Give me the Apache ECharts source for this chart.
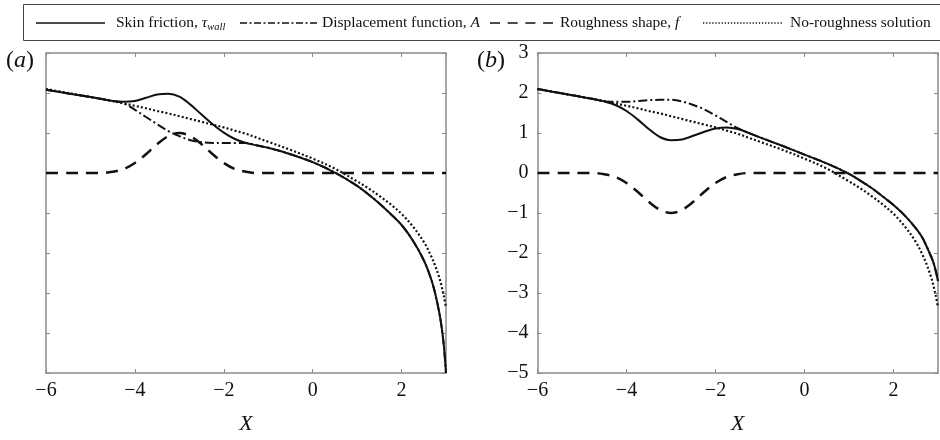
<!DOCTYPE html>
<html><head><meta charset="utf-8">
<script src="https://cdn.jsdelivr.net/npm/echarts@6/dist/echarts.min.js"></script>
<style>html,body{margin:0;padding:0;background:#fff}#c{width:940px;height:440px}</style>
</head><body><div id="c"></div><script>
// shared X sample positions
const xs = [-6, -5.5, -5, -4.75, -4.5, -4.25, -4, -3.75, -3.5, -3.25, -3, -2.75, -2.5, -2.25, -2, -1.75, -1.5, -1.25, -1, -0.5, 0, 0.5, 1, 1.25, 1.5, 1.75, 2, 2.25, 2.5, 2.65, 2.75, 2.85, 2.9, 2.95, 3];
// no-roughness solution (same in both panels)
const noRough = [2.10, 2.00, 1.90, 1.85, 1.80, 1.74, 1.68, 1.62, 1.55, 1.49, 1.42, 1.35, 1.28, 1.21, 1.14, 1.06, 0.98, 0.88, 0.78, 0.58, 0.36, 0.11, -0.21, -0.38, -0.57, -0.78, -1.02, -1.33, -1.72, -2.04, -2.30, -2.62, -2.83, -3.07, -3.36];
// panel (a)
const tauA = [2.08, 1.99, 1.90, 1.85, 1.80, 1.78, 1.80, 1.88, 1.96, 1.98, 1.91, 1.71, 1.46, 1.22, 1.01, 0.85, 0.75, 0.69, 0.63, 0.47, 0.27, 0.01, -0.32, -0.53, -0.76, -1.02, -1.30, -1.68, -2.18, -2.60, -2.98, -3.50, -3.84, -4.30, -5.00];
const dispA = [2.08, 1.99, 1.90, 1.85, 1.80, 1.74, 1.58, 1.40, 1.22, 1.05, 0.92, 0.82, 0.77, 0.75, 0.75, 0.75, 0.75, 0.69, 0.63, 0.47, 0.27, 0.01, -0.32, -0.53, -0.76, -1.02, -1.30, -1.68, -2.18, -2.60, -2.98, -3.50, -3.84, -4.30, -5.00];
const roughA = [0, 0, 0, 0, 0.03, 0.10, 0.25, 0.47, 0.72, 0.92, 1.00, 0.92, 0.72, 0.47, 0.25, 0.10, 0.03, 0, 0, 0, 0, 0, 0, 0, 0, 0, 0, 0, 0, 0, 0, 0, 0, 0, 0];
// panel (b)
const tauB = [2.10, 2.00, 1.90, 1.85, 1.79, 1.70, 1.55, 1.34, 1.10, 0.90, 0.82, 0.84, 0.93, 1.03, 1.11, 1.14, 1.10, 1.00, 0.89, 0.68, 0.46, 0.24, -0.02, -0.19, -0.37, -0.58, -0.80, -1.06, -1.38, -1.62, -1.85, -2.10, -2.25, -2.45, -2.70];
const dispB = [2.10, 2.00, 1.90, 1.85, 1.79, 1.78, 1.78, 1.80, 1.82, 1.83, 1.83, 1.79, 1.70, 1.59, 1.44, 1.28, 1.12, 1.00, 0.89, 0.68, 0.46, 0.24, -0.02, -0.19, -0.37, -0.58, -0.80, -1.06, -1.38, -1.62, -1.85, -2.10, -2.25, -2.45, -2.70];
const roughB = [0, 0, 0, 0, -0.03, -0.10, -0.25, -0.47, -0.72, -0.92, -1.00, -0.92, -0.72, -0.47, -0.25, -0.10, -0.03, 0, 0, 0, 0, 0, 0, 0, 0, 0, 0, 0, 0, 0, 0, 0, 0, 0, 0];
// axis ticks
const xTicks = {min: -6, max: 3, interval: 2};
const yTicks = {min: -5, max: 3, interval: 1};

const FONT = 'Liberation Serif';
const INK = '#111';
const FRAME = '#8a8a8a';
const fmt = v => String(v).replace('-', '\u2212');

function xAx(grid, pos, labels) {
  return {
    type: 'value', gridIndex: grid, position: pos,
    min: xTicks.min, max: xTicks.max, interval: xTicks.interval,
    axisLine: {show: true, onZero: false, lineStyle: {color: FRAME, width: 1.5}},
    axisTick: {show: true, inside: true, length: 4, lineStyle: {color: FRAME, width: 1}},
    axisLabel: {show: labels, formatter: fmt, color: INK, fontFamily: FONT, fontSize: 20, margin: 8, showMaxLabel: false},
    splitLine: {show: false},
    name: labels ? 'X' : '', nameLocation: 'middle', nameGap: 40,
    nameTextStyle: {fontFamily: FONT, fontStyle: 'italic', fontSize: 22, color: INK}
  };
}
function yAx(grid, pos, labels) {
  return {
    type: 'value', gridIndex: grid, position: pos,
    min: yTicks.min, max: yTicks.max, interval: yTicks.interval,
    axisLine: {show: true, onZero: false, lineStyle: {color: FRAME, width: 1.5}},
    axisTick: {show: true, inside: true, length: 4, lineStyle: {color: FRAME, width: 1}},
    axisLabel: {show: labels, formatter: fmt, color: INK, fontFamily: FONT, fontSize: 20, margin: 9},
    splitLine: {show: false}
  };
}
const pts = arr => xs.map((x, i) => [x, arr[i]]);

const styles = {
  tau: {color: INK, width: 2, type: 'solid'},
  disp: {color: INK, width: 2, type: [9, 3, 2, 3]},
  rough: {color: INK, width: 2.5, type: [12, 8]},
  none: {color: INK, width: 2.2, type: [2, 2.2]}
};
function ser(name, arr, st, gi) {
  return {
    name: name, type: 'line', xAxisIndex: gi, yAxisIndex: gi,
    data: pts(arr), smooth: 0.35, showSymbol: false, symbol: 'none',
    lineStyle: {color: st.color, width: st.width, type: st.type},
    animation: false, z: 2
  };
}

const legY = 23;
const LF = 15.5;
const chart = echarts.init(document.getElementById('c'), null, {renderer: 'canvas'});
chart.setOption({
  backgroundColor: '#fff',
  animation: false,
  grid: [
    {left: 46, right: 494, top: 53, bottom: 63},
    {left: 537.5, right: 2, top: 53, bottom: 63}
  ],
  xAxis: [xAx(0, 'bottom', true), xAx(1, 'bottom', true), xAx(0, 'top', false), xAx(1, 'top', false)],
  yAxis: [yAx(0, 'left', false), yAx(1, 'left', true), yAx(0, 'right', false), yAx(1, 'right', false)],
  series: [
    ser('No-roughness solution', noRough, styles.none, 0),
    ser('Roughness shape, f', roughA, styles.rough, 0),
    ser('Displacement function, A', dispA, styles.disp, 0),
    ser('Skin friction', tauA, styles.tau, 0),
    ser('No-roughness solution', noRough, styles.none, 1),
    ser('Roughness shape, f', roughB, styles.rough, 1),
    ser('Displacement function, A', dispB, styles.disp, 1),
    ser('Skin friction', tauB, styles.tau, 1)
  ],
  graphic: [
    {type: 'rect', shape: {x: 23.5, y: 4.5, width: 930, height: 36}, style: {fill: 'none', stroke: '#444', lineWidth: 1}},
    {type: 'line', shape: {x1: 36, y1: legY, x2: 105, y2: legY}, style: {stroke: INK, lineWidth: 1.5}},
    {type: 'text', x: 116, y: legY, style: {text: '{a|Skin friction, }{b|\u03c4}{c|wall}', verticalAlign: 'middle', fill: INK,
      rich: {a: {fontFamily: FONT, fontSize: LF, fill: INK}, b: {fontFamily: FONT, fontSize: LF, fontStyle: 'italic', fill: INK},
             c: {fontFamily: FONT, fontSize: 10.5, fontStyle: 'italic', fill: INK, padding: [8, 0, 0, 0]}}}},
    {type: 'line', shape: {x1: 240, y1: legY, x2: 317, y2: legY}, style: {stroke: INK, lineWidth: 1.5, lineDash: [7, 2.5, 2, 2.5]}},
    {type: 'text', x: 322, y: legY, style: {text: '{a|Displacement function, }{b|A}', verticalAlign: 'middle',
      rich: {a: {fontFamily: FONT, fontSize: LF, fill: INK}, b: {fontFamily: FONT, fontSize: LF, fontStyle: 'italic', fill: INK}}}},
    {type: 'line', shape: {x1: 490, y1: legY, x2: 553, y2: legY}, style: {stroke: INK, lineWidth: 1.5, lineDash: [10, 7.7]}},
    {type: 'text', x: 560, y: legY, style: {text: '{a|Roughness shape, }{b|f}', verticalAlign: 'middle',
      rich: {a: {fontFamily: FONT, fontSize: LF, fill: INK}, b: {fontFamily: FONT, fontSize: LF, fontStyle: 'italic', fill: INK}}}},
    {type: 'line', shape: {x1: 703, y1: legY, x2: 782, y2: legY}, style: {stroke: INK, lineWidth: 1.3, lineDash: [1.3, 1.8]}},
    {type: 'text', x: 790, y: legY, style: {text: 'No-roughness solution', verticalAlign: 'middle', fontFamily: FONT, fontSize: LF, fill: INK}},
    {type: 'text', x: 6, y: 61, style: {text: '{p|(}{i|a}{p|)}', verticalAlign: 'middle',
      rich: {p: {fontFamily: FONT, fontSize: 24, fill: INK}, i: {fontFamily: FONT, fontSize: 24, fontStyle: 'italic', fill: INK}}}},
    {type: 'text', x: 477, y: 61, style: {text: '{p|(}{i|b}{p|)}', verticalAlign: 'middle',
      rich: {p: {fontFamily: FONT, fontSize: 24, fill: INK}, i: {fontFamily: FONT, fontSize: 24, fontStyle: 'italic', fill: INK}}}}
  ]
});
</script></body></html>
